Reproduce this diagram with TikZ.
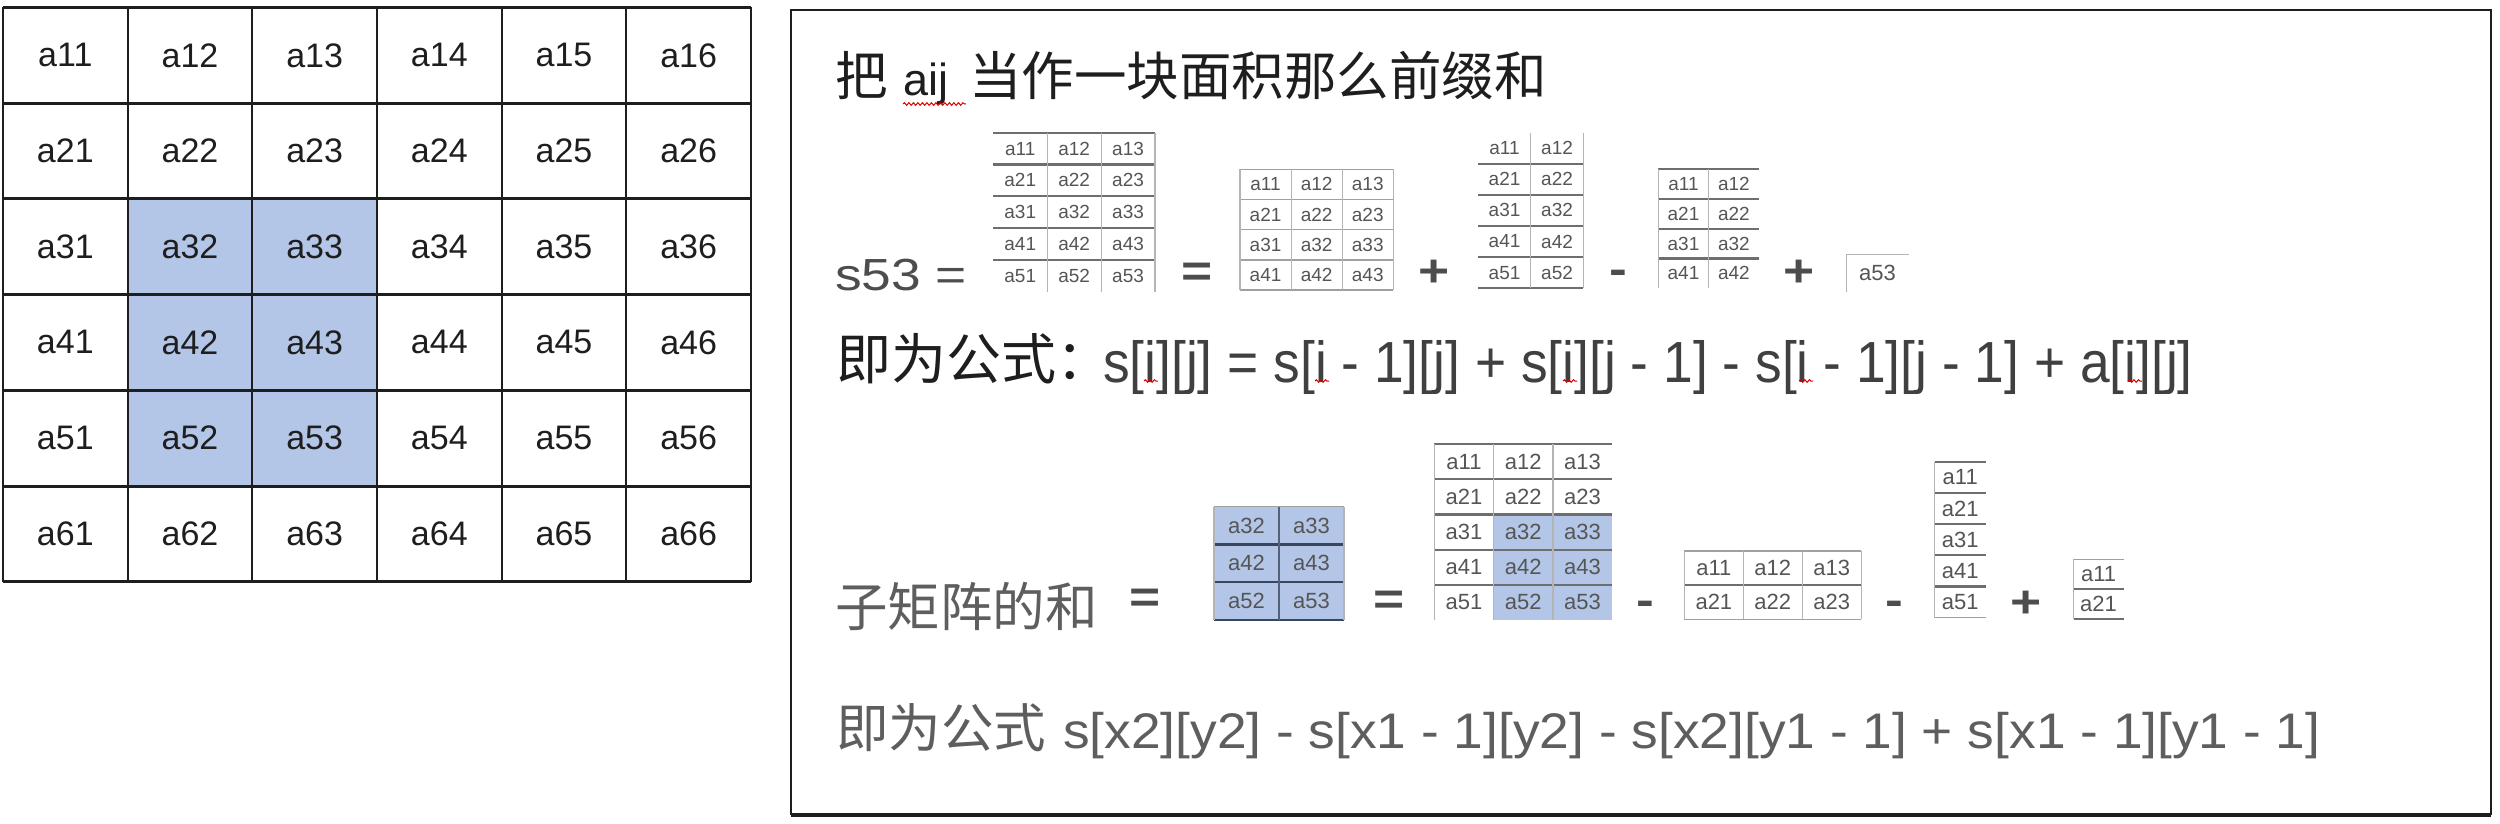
\documentclass[tikz,border=0pt]{standalone}
\usepackage{fontspec}
\setmainfont{Liberation Sans}
\newfontfamily\cjk{Noto Sans CJK SC}
\newfontfamily\lat[FakeStretch=1.185]{Liberation Sans}
\newfontfamily\latA[FakeStretch=0.92]{Liberation Sans}
\newfontfamily\latB[FakeStretch=1.066]{Liberation Sans}
\usetikzlibrary{decorations.pathmorphing}
\definecolor{cellblue}{HTML}{B4C6E7}
\definecolor{ink}{HTML}{1E1E1E}
\definecolor{inkgray}{HTML}{4D4D4D}
\definecolor{lightink}{HTML}{5E5E5E}
\definecolor{tabtext}{HTML}{555555}
\definecolor{hlc}{HTML}{6E6E6E}
\definecolor{hmc}{HTML}{A0A0A0}
\definecolor{vlc}{HTML}{B4B4B4}
\definecolor{hbc}{HTML}{3A4660}
\definecolor{vbc}{HTML}{55607A}

% cells: #1 name, #2 x0, #3 y0, #4 w, #5 h, #6 rows, #7 cols, #8 row offset, #9 col offset
\newcommand\tabCells[9]{%
  \foreach \r in {1,...,#6}{\foreach \c in {1,...,#7}{%
    \pgfmathtruncatemacro\rr{\r+#8}\pgfmathtruncatemacro\cc{\c+#9}%
    \node[tcell] (#1-\r-\c) at ({#2+(\c-0.5)*#4},{#3+(\r-0.5)*#5}) {a\rr\cc};
  }}}
% horizontal rules: #1 style, #2 x0, #3 y0, #4 length, #5 h, #6 list
\newcommand\tabH[6]{\foreach \k in {#6}{\draw[#1] (#2,{#3+\k*#5}) -- ({#2+#4},{#3+\k*#5});}}
% vertical rules: #1 style, #2 x0, #3 y0, #4 w, #5 length, #6 list
\newcommand\tabV[6]{\foreach \k in {#6}{\draw[#1] ({#2+\k*#4},#3) -- ({#2+\k*#4},{#3+#5});}}

\begin{document}
\begin{tikzpicture}[x=1pt,y=-1pt,
  gcell/.style={inner sep=0, font=\fontsize{34}{37}\selectfont, text=ink},
  scell/.style={inner sep=0, font=\fontsize{19}{22}\selectfont, text=tabtext},
  mcell/.style={inner sep=0, font=\fontsize{22}{25}\selectfont, text=tabtext},
  tcell/.style=scell,
  gh/.style={draw=ink, line width=3},
  gv/.style={draw=ink, line width=1.8},
  hl/.style={draw=hlc, line width=2.2},
  hm/.style={draw=hmc, line width=1.4},
  vl/.style={draw=vlc, line width=1.2},
  hb/.style={draw=hbc, line width=2.2},
  vb/.style={draw=vbc, line width=1.2},
  cjkt/.style={inner sep=0, outer sep=0, anchor=base west, font=\cjk\fontsize{52.5}{56}\selectfont},
  latt/.style={inner sep=0, outer sep=0, anchor=base west, font=\lat\fontsize{45}{50}\selectfont},
  opr/.style={inner sep=0, outer sep=0, anchor=center, font=\lat\bfseries\fontsize{45}{50}\selectfont, text=inkgray},
  squig/.style={draw=red!85!black, line width=1, decorate, decoration={snake, segment length=4.5, amplitude=1.3}}
]
\useasboundingbox (0,0) rectangle (2500,824);
\fill[white] (0,0) rectangle (2500,824);

% ---------- left 6x6 grid ----------
\fill[cellblue] (127.67,199.5) rectangle (377,488.3);
\tikzset{tcell/.style=gcell}
\tabCells{g}{3}{7.5}{124.67}{95.7}{6}{6}{0}{0}
\tabV{gv}{3}{7.5}{124.67}{574.2}{0,...,6}
\tabH{gh}{3}{7.5}{748}{95.7}{0,...,6}

% ---------- right box ----------
\draw[ink, line width=2.6] (791,10) rectangle (2491,814);
\draw[ink, line width=2] (791,816) -- (2491,816);

% line 1
\node[cjkt, text=ink] (l1a) at (835,96) {把};
\node[inner sep=0, outer sep=0, anchor=base west, font=\fontsize{45}{50}\selectfont, text=ink] (l1b) at (903,96) {aij};
\node[cjkt, text=ink] (l1c) at (969,96) {当作一块面积那么前缀和};
\draw[squig] (903,104) -- (966,104);

% line 2: s53 = ...
\node[latt, text=inkgray] (s53) at (835,290) {s53 =};
\tikzset{tcell/.style=scell}
% table 1 (5x3)
\tabCells{ta}{993.3}{132.7}{53.9}{31.8}{5}{3}{0}{0}
\tabH{hl}{993.3}{132.7}{161.7}{31.8}{0,...,4}
\tabV{vl}{993.3}{132.7}{53.9}{159}{1,2,3}
\node[opr] (eq1) at (1197,275) {=};
% table 2 (4x3)
\tabCells{tb}{1240}{169.3}{51.1}{30.2}{4}{3}{0}{0}
\tabH{hm}{1240}{169.3}{153.3}{30.2}{0,...,4}
\tabV{vl}{1240}{169.3}{51.1}{120.8}{0,...,3}
\node[opr] (pl1) at (1434,273) {+};
% table 3 (5x2)
\tabCells{tc}{1478.3}{132.7}{52.5}{31.1}{5}{2}{0}{0}
\tabH{hl}{1478.3}{132.7}{105}{31.1}{1,...,5}
\tabV{vl}{1478.3}{132.7}{52.5}{155.5}{1,2}
\node[opr] (mi1) at (1618,277.5) {-};
% table 4 (4x2)
\tabCells{td}{1658.3}{169.3}{50.4}{29.75}{4}{2}{0}{0}
\tabH{hl}{1658.3}{169.3}{100.8}{29.75}{0,...,3}
\tabV{vl}{1658.3}{169.3}{50.4}{119}{0,1}
\node[opr] (pl2) at (1799,273) {+};
% a53
\node[mcell, minimum width=61.6, minimum height=36.7] (te) at (1877.5,273.3) {a53};
\draw[vl] (te.south west) -- (te.north west) -- (te.north east);

% line 3
\node[inner sep=0, outer sep=0, anchor=base west, font=\cjk\fontsize{55}{60}\selectfont, text=ink] (l3a) at (836,379) {即为公式：};
\node[inner sep=0, outer sep=0, anchor=base west, font=\latA\fontsize{58}{62}\selectfont, text=ink!85] (l3b) at (1103,382) {s[i][j] = s[i - 1][j] + s[i][j - 1] - s[i - 1][j - 1] + a[i][j]};
\foreach \sx in {1151,1322,1570,1806,2135}{\draw[squig] ({\sx-7},381) -- ({\sx+7},381);}

% line 4: sub-matrix
\node[cjkt, text=lightink] (l4) at (835,626) {子矩阵的和};
\node[opr] (eq2) at (1145,601) {=};
\tikzset{tcell/.style=mcell}
% B1 blue 3x2
\fill[cellblue] (1214,506.7) rectangle (1344,620);
\tabCells{ba}{1214}{506.7}{65}{37.8}{3}{2}{2}{1}
\tabH{hm}{1214}{506.7}{130}{37.8}{0}
\tabH{hb}{1214}{506.7}{130}{37.8}{1,2,3}
\tabV{vb}{1214}{506.7}{65}{113.4}{1}
\tabV{vl}{1214}{506.7}{65}{113.4}{0,2}
\node[opr] (eq3) at (1389,603) {=};
% B2 5x3 with blue
\fill[cellblue] (1493.6,514.4) rectangle (1612.3,620);
\tabCells{bb}{1434.3}{444}{59.3}{35.2}{5}{3}{0}{0}
\tabH{hl}{1434.3}{444}{178}{35.2}{0,...,4}
\tabV{vl}{1434.3}{444}{59.3}{176}{0,1,2}
\node[opr] (mi2) at (1645,608) {-};
% B3 2x3
\tabCells{bc}{1684.4}{551}{58.9}{34.15}{2}{3}{0}{0}
\tabH{hm}{1684.4}{551}{176.8}{34.15}{0,2}
\tabH{hl}{1684.4}{551}{176.8}{34.15}{1}
\tabV{vl}{1684.4}{551}{58.9}{68.3}{0,...,3}
\node[opr] (mi3) at (1894,608) {-};
% B4 5x1
\tabCells{bd}{1934.7}{461.7}{51.1}{31.2}{5}{1}{0}{0}
\tabH{hl}{1934.7}{461.7}{51.1}{31.2}{0,...,4}
\tabH{hm}{1934.7}{461.7}{51.1}{31.2}{5}
\tabV{vl}{1934.7}{461.7}{51.1}{156}{0}
\node[opr] (pl3) at (2026,604) {+};
% B5 2x1
\tabCells{be}{2073.6}{559.3}{49.9}{30}{2}{1}{0}{0}
\tabH{hm}{2073.6}{559.3}{49.9}{30}{0}
\tabH{hl}{2073.6}{559.3}{49.9}{30}{1,2}
\tabV{vl}{2073.6}{559.3}{49.9}{60}{0}

% line 5
\node[cjkt, text=lightink] (l5a) at (836,747) {即为公式};
\node[inner sep=0, outer sep=0, anchor=base west, font=\latB\fontsize{50}{54}\selectfont, text=lightink] (l5b) at (1063,748) {s[x2][y2] - s[x1 - 1][y2] - s[x2][y1 - 1] + s[x1 - 1][y1 - 1]};
\end{tikzpicture}
\end{document}
